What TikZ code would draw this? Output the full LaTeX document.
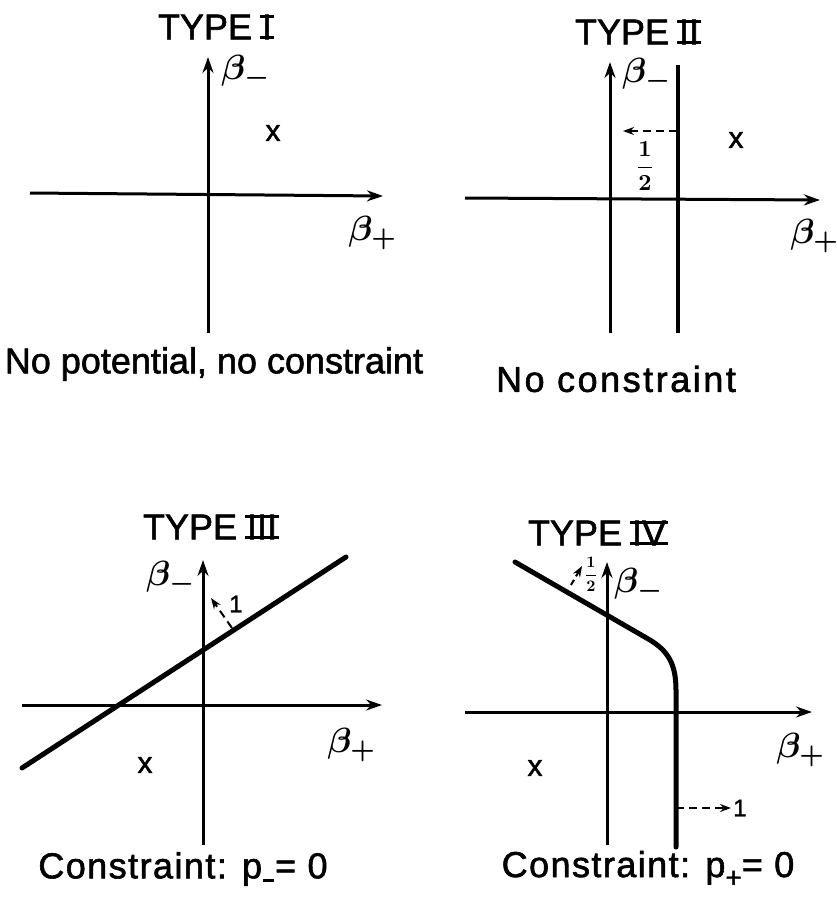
\documentclass[tikz,border=0pt]{standalone}
\usepackage{graphicx}
\usepackage{fontspec}
\setmainfont{Liberation Sans}[BoldFont=Liberation Sans,BoldFeatures={FakeBold=1.6}]
\usetikzlibrary{arrows.meta}
\newcommand\rnm[1]{\setbox0\hbox{#1}\setbox2\hbox{\kern-2pt\rule{\dimexpr\wd0+4pt\relax}{3pt}\kern-2pt}\rlap{\box2}\setbox2\hbox{\kern-2pt\raisebox{\dimexpr\ht0-3pt\relax}{\rule{\dimexpr\wd0+4pt\relax}{3pt}}\kern-2pt}\rlap{\box2}\box0}
\newcommand\bmath[1]{\scalebox{3.5}{\boldmath$#1$}}
\newcommand\smath[2]{\scalebox{#1}{\boldmath$\displaystyle\frac{1}{2}$}}
\newcommand\subm{\kern1pt\raisebox{-4pt}{\rule{11pt}{3pt}}\kern1pt}
\newcommand\subp{\raisebox{-10pt}{\fontsize{28}{28}\selectfont +}}
\begin{document}
\begin{tikzpicture}[x=1pt,y=-1pt,
  ax/.style={line width=3pt,-{Stealth[length=16pt,width=11pt]}},
  wall/.style={line width=3.6pt},
  wallthick/.style={line width=5pt,line cap=round},
  dasharrow/.style={line width=2pt,dash pattern=on 8pt off 5pt,-{Stealth[length=11pt,width=8pt]}},
  big/.style={font=\fontsize{36}{40}\selectfont\bfseries,inner sep=0pt},
  sym/.style={inner sep=0pt},
  xm/.style={font=\fontsize{30}{32}\selectfont\bfseries,inner sep=0pt},
  small/.style={font=\fontsize{24}{26}\selectfont\bfseries,inner sep=0pt}]
\useasboundingbox[fill=white] (0,0) rectangle (837,898);
% ---------- Type I
\coordinate (v1b) at (208,333); \coordinate (v1t) at (208,57);
\coordinate (h1l) at (30,193);  \coordinate (h1r) at (383,196);
\draw[ax] (v1b) -- (v1t);
\draw[ax] (h1l) -- (h1r);
\node[big] (t1) at (215,27) {TYPE \rnm{I}};
\node[sym] (bm1) at (246,72) {\bmath{\beta_-}};
\node[sym] (bp1) at (373,233) {\bmath{\beta_+}};
\node[xm] (x1) at (273,133) {x};
\node[big] (c1) at (214,364) {No potential, no constraint};
% ---------- Type II
\coordinate (v2b) at (610,333); \coordinate (v2t) at (610,62);
\coordinate (w2b) at (678,333); \coordinate (w2t) at (678,65);
\coordinate (h2l) at (465,198); \coordinate (h2r) at (820,200);
\draw[ax] (v2b) -- (v2t);
\draw[wall] (w2b) -- (w2t);
\draw[ax] (h2l) -- (h2r);
\coordinate (d2s) at (677,131); \coordinate (d2e) at (623,131);
\draw[dasharrow] (d2s) -- (d2e);
\node[sym] (f2) at (645,166) {\smath{2.3}{}};
\node[big] (t2) at (637,32) {TYPE \rnm{II}};
\node[sym] (bm2) at (647,75) {\bmath{\beta_-}};
\node[sym] (bp2) at (815,236) {\bmath{\beta_+}};
\node[xm] (x2) at (736,140) {x};
\node[big] (c2) at (616,379) {\addfontfeature{LetterSpace=7}No constraint};
% ---------- Type III
\coordinate (v3b) at (203,845); \coordinate (v3t) at (203,560);
\coordinate (h3l) at (22,705);  \coordinate (h3r) at (382,705);
\draw[ax] (v3b) -- (v3t);
\draw[ax] (h3l) -- (h3r);
\coordinate (l3a) at (22,768); \coordinate (l3b) at (346,557);
\draw[wallthick] (l3a) -- (l3b);
\coordinate (d3s) at (232,628); \coordinate (d3e) at (211,598);
\draw[dasharrow] (d3s) -- (d3e);
\node[small] (n3) at (236,604) {1};
\node[big] (t3) at (210,527) {TYPE \rnm{III}};
\node[sym] (bm3) at (171,578) {\bmath{\beta_-}};
\node[sym] (bp3) at (352,745) {\bmath{\beta_+}};
\node[xm] (x3) at (145,765) {x};
\node[big] (c3) at (183,869) {\addfontfeature{LetterSpace=4}Constraint: p\subm= 0};
% ---------- Type IV
\coordinate (v4b) at (607,845); \coordinate (v4t) at (607,562);
\coordinate (h4l) at (465,712); \coordinate (h4r) at (812,712);
\draw[ax] (v4b) -- (v4t);
\draw[ax] (h4l) -- (h4r);
\coordinate (l4a) at (515,562); \coordinate (l4b) at (650,640);
\coordinate (l4c) at (676,690); \coordinate (l4d) at (676,847);
\draw[wallthick,line join=round] (l4a) -- (l4b) .. controls (668,651) and (676,664) .. (l4c) -- (l4d);
\coordinate (d4s) at (676,808); \coordinate (d4e) at (731,808);
\draw[dasharrow] (d4s) -- (d4e);
\node[small] (n4) at (740,808) {1};
\coordinate (e4s) at (571,585); \coordinate (e4e) at (582,566);
\draw[dasharrow,dash pattern=on 6pt off 4pt] (e4s) -- (e4e);
\node[sym] (f4) at (591,574) {\smath{1.6}{}};
\node[big] (t4) at (597,533) {TYPE \rnm{IV}};
\node[sym] (bm4) at (639,585) {\bmath{\beta_-}};
\node[sym] (bp4) at (801,750) {\bmath{\beta_+}};
\node[xm] (x4) at (535,768) {x};
\node[big] (c4) at (648,869) {\addfontfeature{LetterSpace=4}Constraint: p\subp= 0};
\end{tikzpicture}
\end{document}
